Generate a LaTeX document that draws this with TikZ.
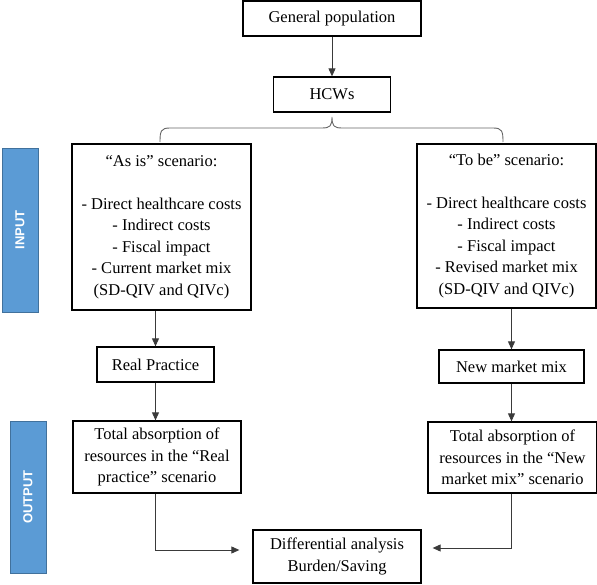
\documentclass[tikz,border=0pt]{standalone}
\usepackage{fontspec}
\setmainfont{Liberation Serif}
\newfontfamily\barfont{Liberation Sans}
\usetikzlibrary{arrows.meta,calc}
\definecolor{barblue}{HTML}{5B9BD5}
\definecolor{barline}{HTML}{41719C}
\definecolor{conn}{HTML}{3A3A3A}
\tikzset{
  box/.style={draw=black, line width=1.3pt, inner sep=0pt, align=center,
    font=\fontsize{16.5}{21.5}\selectfont},
  arr/.style={draw=conn, line width=0.9pt, -{Triangle[length=8pt,width=7pt]}},
  bar/.style={draw=barline, line width=0.8pt, fill=barblue, rotate=90, inner sep=0pt,
    minimum height=36pt, text=white, font=\barfont\fontsize{13}{15}\selectfont\bfseries}
}
\begin{document}
\begin{tikzpicture}[x=1pt,y=-1pt]
\useasboundingbox (0,0) rectangle (597,585);
% top boxes
\node[box, minimum width=178, minimum height=35] (gp) at (332,18.5) {General population};
\node[box, minimum width=117, minimum height=35] (hcw) at (332,94.5) {HCWs};
\draw[arr] (gp.south) -- (hcw.north);
% brace
\coordinate (bl) at (160,142);
\coordinate (br) at (503,142);
\coordinate (bt) at (332,117);
\draw[draw=gray!80!black, line width=0.9pt] (bl) .. controls (160,131) and (161,128) .. (170,128)
  -- (322,128) .. controls (330,128) and (332,126) .. (bt)
  .. controls (332,126) and (334,128) .. (342,128)
  -- (493,128) .. controls (502,128) and (503,131) .. (br);
% scenario boxes
\node[box, minimum width=179, minimum height=166] (as) at (161.5,227)
  {“As is” scenario:\\[21.5pt]- Direct healthcare costs\\- Indirect costs\\- Fiscal impact\\- Current market mix\\(SD-QIV and QIVc)};
\node[box, minimum width=179, minimum height=164] (tb) at (506.5,226)
  {“To be” scenario:\\[21.5pt]- Direct healthcare costs\\- Indirect costs\\- Fiscal impact\\- Revised market mix\\(SD-QIV and QIVc)};
% middle boxes
\node[box, minimum width=117, minimum height=35] (rp) at (155.5,364.5) {Real Practice};
\node[box, minimum width=145, minimum height=33] (nm) at (511.5,366.5) {New market mix};
\draw[arr] (rp.north |- as.south) -- (rp.north);
\draw[arr] (nm.north |- tb.south) -- (nm.north);
% total boxes
\node[box, minimum width=168, minimum height=72] (tl) at (157,457)
  {Total absorption of\\resources in the “Real\\practice” scenario};
\node[box, minimum width=169, minimum height=71] (tr) at (512.5,457.5)
  {Total absorption of\\resources in the “New\\market mix” scenario};
\draw[arr] (rp.south) -- (rp.south |- tl.north);
\draw[arr] (nm.south) -- (nm.south |- tr.north);
% differential
\node[box, minimum width=168, minimum height=53] (diff) at (337,556.5)
  {Differential analysis\\Burden/Saving};
\draw[arr] (rp.south |- tl.south) |- ([xshift=-13pt,yshift=6.5pt]diff.west);
\draw[arr] (nm.south |- tr.south) |- ([xshift=11pt,yshift=8.5pt]diff.east);
% side bars
\node[bar, minimum width=164] (inp) at (20,230) {INPUT};
\node[bar, minimum width=152] (outp) at (28,497) {OUTPUT};
\end{tikzpicture}
\end{document}
